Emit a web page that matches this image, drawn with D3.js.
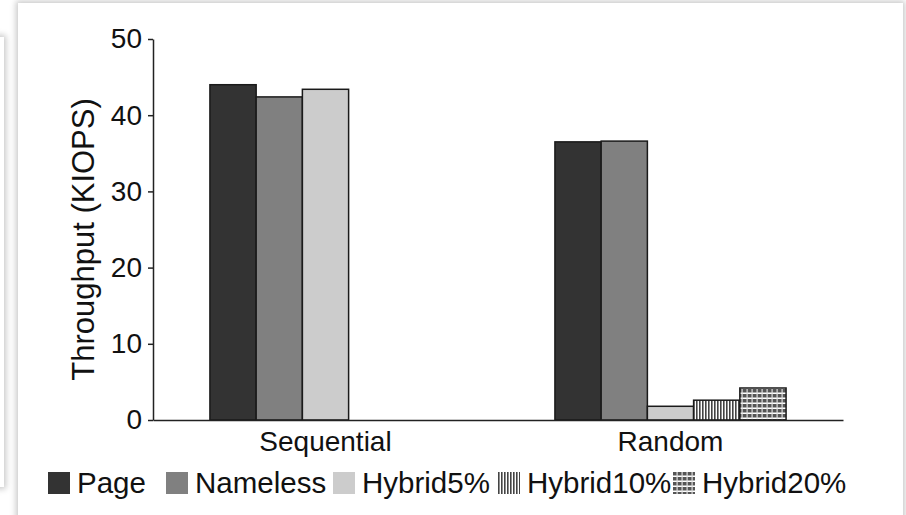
<!DOCTYPE html>
<html>
<head>
<meta charset="utf-8">
<script src="https://cdn.jsdelivr.net/npm/d3@7"></script>
<style>
  html, body { margin: 0; padding: 0; background: #fff; overflow: hidden; }
  body { width: 906px; height: 515px; position: relative; }
  .card { position: absolute; background: #fff; box-shadow: 0 0 6px 2px rgba(0,0,0,0.22); }
  #chart { position: absolute; left: 0; top: 0; }
  text { font-family: "Liberation Sans", Arial, Helvetica, sans-serif; fill: #111; }
</style>
</head>
<body>
<div class="card" style="left:-40px; top:37px; width:44px; height:450px;"></div>
<div class="card" style="left:18px; top:3px; width:885px; height:560px;"></div>
<svg id="chart" width="906" height="515"></svg>
<script>
// data
var categories = ['Sequential', 'Random']
var series = ['Page', 'Nameless', 'Hybrid5%', 'Hybrid10%', 'Hybrid20%']
var pageVals = [44.0, 36.5]
var namelessVals = [42.4, 36.6]
var hybrid5Vals = [43.4, 1.8]
var hybrid10Vals = [null, 2.6]
var hybrid20Vals = [null, 4.2]
var yTicks = [0, 10, 20, 30, 40, 50]

var values = [pageVals, namelessVals, hybrid5Vals, hybrid10Vals, hybrid20Vals]
var fills = ['#333333', '#808080', '#cccccc', 'url(#vlines)', 'url(#grid)']

var margin = { top: 39, left: 153, right: 63, bottom: 95 }
var width = 906 - margin.left - margin.right
var height = 515 - margin.top - margin.bottom

var svg = d3.select('#chart')

// patterns for the hybrid bars
var defs = svg.append('defs')
var vl = defs.append('pattern')
  .attr('id', 'vlines').attr('patternUnits', 'userSpaceOnUse')
  .attr('width', 3).attr('height', 6)
vl.append('rect').attr('width', 3).attr('height', 6).attr('fill', '#fff')
vl.append('rect').attr('x', 0).attr('width', 1.6).attr('height', 6).attr('fill', '#444')

var gr = defs.append('pattern')
  .attr('id', 'grid').attr('patternUnits', 'userSpaceOnUse')
  .attr('width', 5).attr('height', 5)
gr.append('rect').attr('width', 5).attr('height', 5).attr('fill', '#555')
gr.append('rect').attr('y', 3.5).attr('width', 5).attr('height', 1.5).attr('fill', '#fff')
gr.append('rect').attr('x', 3.5).attr('width', 1.2).attr('height', 5).attr('fill', '#ddd')

var g = svg.append('g')
  .attr('transform', 'translate(' + margin.left + ',' + margin.top + ')')

var x0 = d3.scaleBand()
  .domain(categories)
  .range([0, width])
  .paddingInner(0.33)
  .paddingOuter(0.165)

var x1 = d3.scaleBand()
  .domain(series)
  .range([0, x0.bandwidth()])
  .padding(0)

var y = d3.scaleLinear()
  .domain([0, 50])
  .range([height, 0])

// bars
series.forEach((s, si) => {
  g.selectAll('rect.s' + si)
    .data(categories.map((c, ci) => ({ cat: c, v: values[si][ci] })).filter(d => d.v != null))
    .enter().append('rect')
    .attr('class', 's' + si)
    .attr('x', d => x0(d.cat) + x1(s))
    .attr('y', d => y(d.v))
    .attr('width', x1.bandwidth())
    .attr('height', d => height - y(d.v))
    .attr('fill', fills[si])
    .attr('stroke', '#1a1a1a')
    .attr('stroke-width', 1.5)
})

// y axis
var yAxis = g.append('g')
  .call(d3.axisLeft(y).tickValues(yTicks).tickSize(5).tickSizeOuter(0).tickPadding(6))
yAxis.select('.domain').attr('stroke', '#222').attr('stroke-width', 1.5)
yAxis.selectAll('.tick line').attr('stroke', '#222').attr('stroke-width', 1.5)
yAxis.selectAll('.tick text')
  .style('font-family', '"Liberation Sans", Arial, sans-serif')
  .style('font-size', '28px').attr('fill', '#111')

// x axis
var xAxis = g.append('g')
  .attr('transform', 'translate(0,' + height + ')')
  .call(d3.axisBottom(x0).tickSize(0).tickPadding(11))
xAxis.select('.domain').attr('stroke', '#222').attr('stroke-width', 1.5)
xAxis.selectAll('.tick text')
  .style('font-family', '"Liberation Sans", Arial, sans-serif')
  .style('font-size', '28px').attr('fill', '#111')

// y axis title
svg.append('text')
  .attr('transform', 'translate(94,' + (margin.top + height / 2 + 10) + ') rotate(-90)')
  .attr('text-anchor', 'middle')
  .style('font-size', '31px')
  .text('Throughput (KIOPS)')

// legend
var legendX = [48, 166, 333, 498, 673]
var legend = svg.append('g').attr('transform', 'translate(0,472)')
series.forEach((s, i) => {
  var item = legend.append('g').attr('transform', 'translate(' + legendX[i] + ',0)')
  item.append('rect')
    .attr('width', 22).attr('height', 22)
    .attr('fill', fills[i])
  item.append('text')
    .attr('x', 29).attr('y', 21)
    .style('font-size', '29.5px')
    .text(s)
})
</script>
</body>
</html>
